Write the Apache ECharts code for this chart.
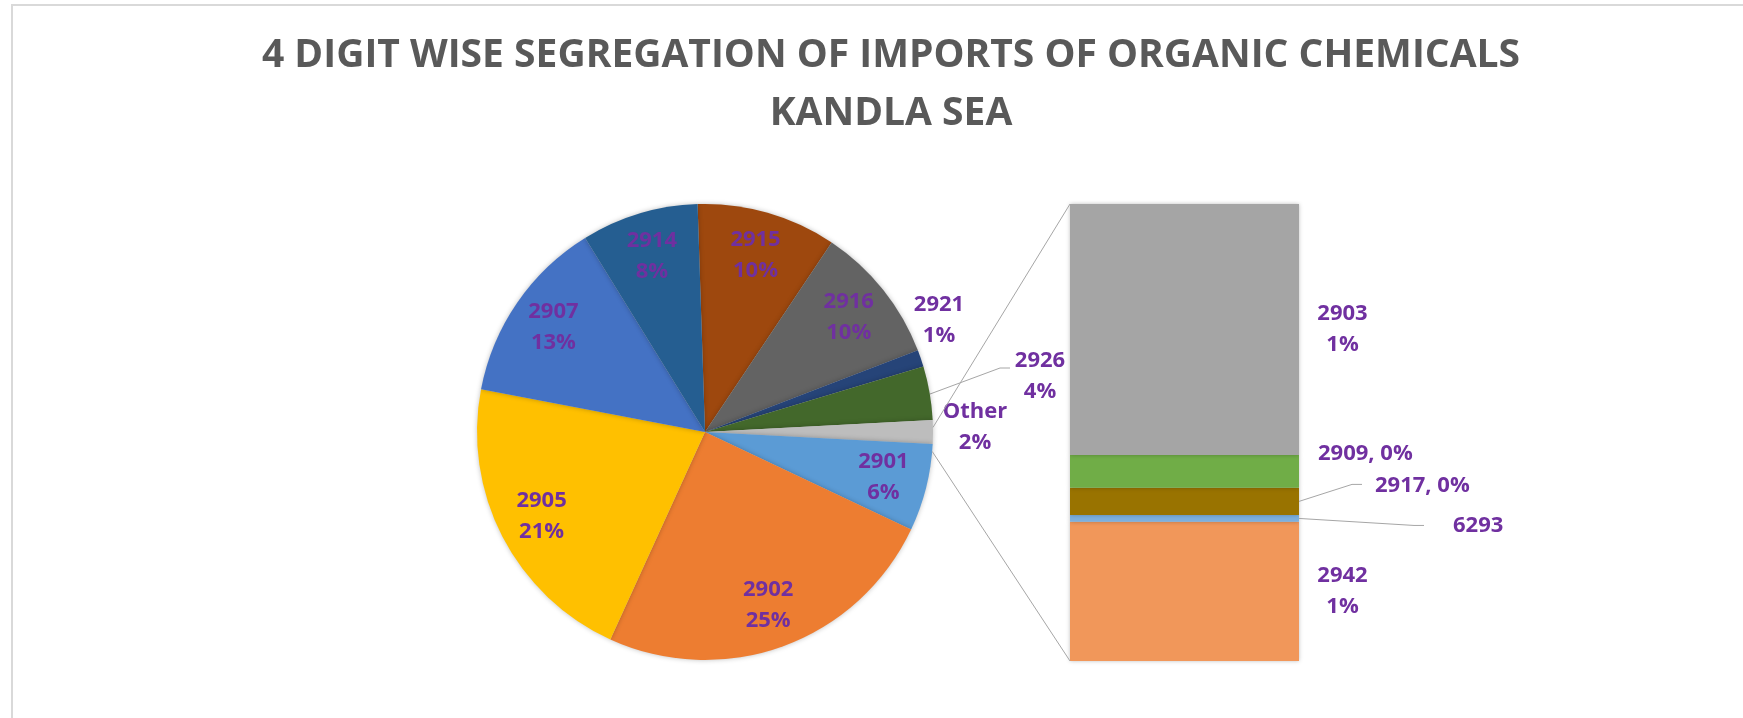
<!DOCTYPE html>
<html>
<head>
<meta charset="utf-8">
<title>Imports of organic chemicals - Kandla Sea</title>
<script src="https://cdn.jsdelivr.net/npm/echarts@6/dist/echarts.min.js"></script>
<style>
  html, body { margin: 0; padding: 0; background: #fff; }
  #chart { width: 1743px; height: 718px; }
</style>
</head>
<body>
<div id="chart"></div>
<script>
// main pie, clockwise from 12 o'clock (share of imports, %)
var pieNames = ['2915', '2916', '2921', '2926', 'Other', '2901', '2902', '2905', '2907', '2914'];
var pieValues = [9.9, 9.8, 1.2, 3.8, null, 6.2, 24.8, 21.2, 13.2, 8.3];
// what "Other" is made of, bottom of the bar to top
var otherNames = ['2942', '6293', '2917', '2909', '2903'];
var otherValues = [0.51, 0.025, 0.10, 0.12, 0.92];

var pieColors = ['#9E480E', '#636363', '#264478', '#43682B', '#BDBDBD',
                 '#5B9BD5', '#ED7D31', '#FFC000', '#4472C4', '#255E91'];
var barColors = ['#F1975A', '#7CAFDD', '#997300', '#70AD47', '#A5A5A5'];

// layout
var CX = 705, CY = 432, R = 228, R_LABEL = 134;
var BAR = { left: 1070, top: 204, width: 229, height: 457 };
var purple = '#7030A0';
var lineGrey = '#A6A6A6';
var labelFont = { fontFamily: 'Open Sans', fontWeight: 'bold', fontSize: 22, lineHeight: 31, color: purple };

var otherTotal = otherValues.reduce(function (a, b) { return a + b; }, 0);
var pieData = pieNames.map(function (n, i) {
  return { name: n, value: n === 'Other' ? otherTotal : pieValues[i], itemStyle: { color: pieColors[i] } };
});
var total = pieData.reduce(function (s, d) { return s + d.value; }, 0);

// excel turns the pie so "Other" sits at 3 o'clock
var otherIdx = pieNames.indexOf('Other');
var before = 0;
for (var i = 0; i < otherIdx; i++) before += pieData[i].value;
var startAngle = (before + otherTotal / 2) / total * 360;

// labels excel put outside the pie (offsets from the pie centre)
var outsideLabels = {
  '2921': { dx: 234, dy: -112 },
  '2926': { dx: 335, dy: -56, line: [[225, -38], [295, -64], [305, -64]] },
  'Other': { dx: 270, dy: -5 }
};

var labelData = pieData.map(function (d) {
  var item = { name: d.name, value: d.value };
  if (outsideLabels[d.name]) {
    item.label = { position: 'outside' };
    item.labelLine = { show: !!outsideLabels[d.name].line };
  }
  return item;
});

function pct(v) { return Math.round(v / total * 100); }

var barLabels = {
  '2903': { position: ['119%', '50%'], align: 'center', verticalAlign: 'middle',
            formatter: function (p) { return p.seriesName + '\n' + pct(p.value) + '%'; } },
  '2942': { position: ['119%', '50%'], align: 'center', verticalAlign: 'middle',
            formatter: function (p) { return p.seriesName + '\n' + pct(p.value) + '%'; } },
  '2909': { position: 'right', distance: 19, offset: [0, -18],
            formatter: function (p) { return p.seriesName + ', ' + pct(p.value) + '%'; } },
  '2917': { position: 'right', distance: 76, offset: [0, -16],
            formatter: function (p) { return p.seriesName + ', ' + pct(p.value) + '%'; } },
  '6293': { position: 'right', distance: 154, offset: [0, 7],
            formatter: function (p) { return p.seriesName; } }
};
// leader lines for the thin bar pieces: elbow point and end, relative to the segment's right middle
var barLeaders = {
  '2917': [[53, -17], [63, -17]],
  '6293': [[115, 7], [125, 7]]
};

var barSeries = otherNames.map(function (n, i) {
  return {
    name: n,
    type: 'bar',
    stack: 'other',
    barCategoryGap: '0%',
    data: [otherValues[i]],
    itemStyle: { color: barColors[i], shadowBlur: 4, shadowColor: 'rgba(0,0,0,0.25)' },
    label: Object.assign({ show: true }, labelFont, barLabels[n]),
    silent: true
  };
});

// series lines from the "Other" slice to the bar
var a1 = (before / total) * 2 * Math.PI;
var a2 = ((before + otherTotal) / total) * 2 * Math.PI;
var p1 = [CX + R * Math.sin(a1), CY - R * Math.cos(a1)];
var p2 = [CX + R * Math.sin(a2), CY - R * Math.cos(a2)];

var chart = echarts.init(document.getElementById('chart'));
var option = {
  backgroundColor: '#fff',
  animation: false,
  title: {
    text: '4 DIGIT WISE SEGREGATION OF IMPORTS OF ORGANIC CHEMICALS\nKANDLA SEA',
    left: 886,
    top: 22,
    textAlign: 'center',
    textStyle: { fontFamily: 'Open Sans', fontWeight: 'bold', fontSize: 39, lineHeight: 58, color: '#595959' }
  },
  grid: { left: BAR.left, top: BAR.top, width: BAR.width, height: BAR.height },
  xAxis: { type: 'category', data: ['Other'], show: false },
  yAxis: { type: 'value', min: 0, max: otherTotal, show: false },
  series: [
    {
      type: 'pie',
      center: [CX, CY],
      radius: R,
      startAngle: startAngle,
      clockwise: true,
      data: pieData,
      label: { show: false },
      labelLine: { show: false },
      itemStyle: { shadowBlur: 5, shadowColor: 'rgba(0,0,0,0.25)' },
      silent: true
    },
    {
      // transparent ring that only carries the labels, so they sit near the rim
      type: 'pie',
      center: [CX, CY],
      radius: [R_LABEL, R],
      startAngle: startAngle,
      clockwise: true,
      percentPrecision: 0,
      avoidLabelOverlap: false,
      data: labelData,
      itemStyle: { color: 'rgba(0,0,0,0)' },
      label: Object.assign({ show: true, position: 'inside', formatter: '{b}\n{d}%' }, labelFont),
      labelLine: { lineStyle: { color: lineGrey, width: 1 } },
      labelLayout: function (params) {
        var o = outsideLabels[pieNames[params.dataIndex]];
        if (!o) return;
        var res = { x: CX + o.dx, y: CY + o.dy, align: 'center', verticalAlign: 'middle' };
        if (o.line) {
          res.labelLinePoints = o.line.map(function (p) { return [CX + p[0], CY + p[1]]; });
        }
        return res;
      },
      silent: true
    }
  ].concat(barSeries)
};
chart.setOption(option);

// border, series lines and bar leader lines
var graphics = [
  { type: 'rect', shape: { x: 12, y: 5, width: 1780, height: 760 }, style: { fill: 'none', stroke: '#D9D9D9', lineWidth: 2 }, silent: true },
  { type: 'polyline', shape: { points: [p1, [BAR.left, BAR.top]] }, style: { stroke: lineGrey, lineWidth: 1 }, silent: true, z: 10 },
  { type: 'polyline', shape: { points: [p2, [BAR.left, BAR.top + BAR.height]] }, style: { stroke: lineGrey, lineWidth: 1 }, silent: true, z: 10 }
];
var cum = 0;
otherNames.forEach(function (n, i) {
  var midVal = cum + otherValues[i] / 2;
  cum += otherValues[i];
  if (!barLeaders[n]) return;
  var right = BAR.left + BAR.width;
  var y = chart.convertToPixel({ yAxisIndex: 0 }, midVal);
  var pts = [[right, y]].concat(barLeaders[n].map(function (p) { return [right + p[0], y + p[1]]; }));
  graphics.push({ type: 'polyline', shape: { points: pts }, style: { stroke: lineGrey, lineWidth: 1, fill: 'none' }, silent: true, z: 10 });
});
chart.setOption({ graphic: graphics });
</script>
</body>
</html>
